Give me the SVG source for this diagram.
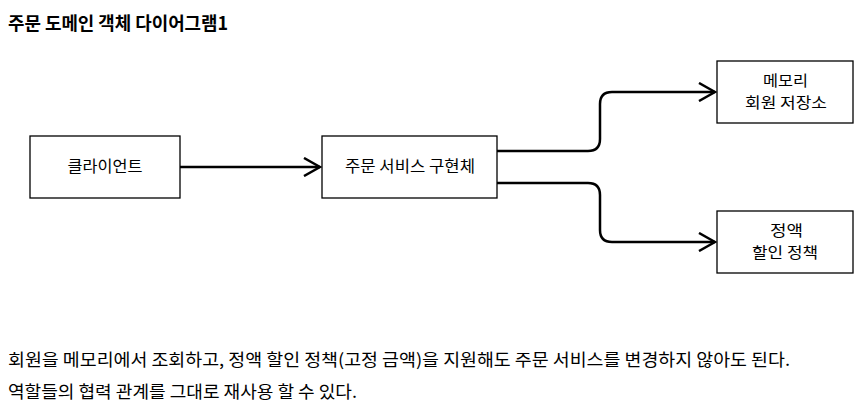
<svg xmlns="http://www.w3.org/2000/svg" width="865" height="412" viewBox="0 0 865 412">
<style>
text{font-family:"Noto Sans CJK KR","Noto Sans",sans-serif;fill:#000}
.t{font-size:18px;font-weight:bold}
.b{font-size:17px}
.n{font-size:16px;text-anchor:middle}
.m{font-size:15px;text-anchor:middle}
.box{fill:#fff;stroke:#000;stroke-width:1.3}
.c{fill:none;stroke:#000;stroke-width:2.5}
</style>
<defs>
<marker id="a" markerWidth="20" markerHeight="20" refX="18" refY="10" orient="auto" markerUnits="userSpaceOnUse">
<path d="M2,1 L18,10 L2,19" fill="none" stroke="#000" stroke-width="2.5"/>
</marker>
</defs>
<rect width="865" height="412" fill="#fff"/>
<text class="t" x="8" y="30" textLength="220" lengthAdjust="spacingAndGlyphs">주문 도메인 객체 다이어그램1</text>
<g id="connectors">
<path class="c" d="M180,167 L320,167" marker-end="url(#a)"/>
<path class="c" d="M497,151 L588,151 Q600,151 600,139 L600,104 Q600,92 612,92 L715,92" marker-end="url(#a)"/>
<path class="c" d="M497,183 L588,183 Q600,183 600,195 L600,230 Q600,242 612,242 L715,242" marker-end="url(#a)"/>
</g>
<g id="client"><rect class="box" x="30" y="136" width="150" height="62"/><text class="n" x="105" y="172" textLength="75" lengthAdjust="spacingAndGlyphs">클라이언트</text></g>
<g id="service"><rect class="box" x="322" y="136" width="175" height="62"/><text class="n" x="410" y="172" textLength="130" lengthAdjust="spacingAndGlyphs">주문 서비스 구현체</text></g>
<g id="memory"><rect class="box" x="717" y="61" width="136" height="62"/><text class="m" x="785.5" y="86" textLength="45" lengthAdjust="spacingAndGlyphs">메모리</text><text class="m" x="786" y="108" textLength="82" lengthAdjust="spacingAndGlyphs">회원 저장소</text></g>
<g id="policy"><rect class="box" x="717" y="211" width="136" height="62"/><text class="m" x="786.5" y="236" textLength="33" lengthAdjust="spacingAndGlyphs">정액</text><text class="m" x="785" y="258" textLength="66" lengthAdjust="spacingAndGlyphs">할인 정책</text></g>
<text class="b" x="8" y="366" textLength="782" lengthAdjust="spacingAndGlyphs">회원을 메모리에서 조회하고, 정액 할인 정책(고정 금액)을 지원해도 주문 서비스를 변경하지 않아도 된다.</text>
<text class="b" x="8" y="398" textLength="349" lengthAdjust="spacingAndGlyphs">역할들의 협력 관계를 그대로 재사용 할 수 있다.</text>
</svg>
